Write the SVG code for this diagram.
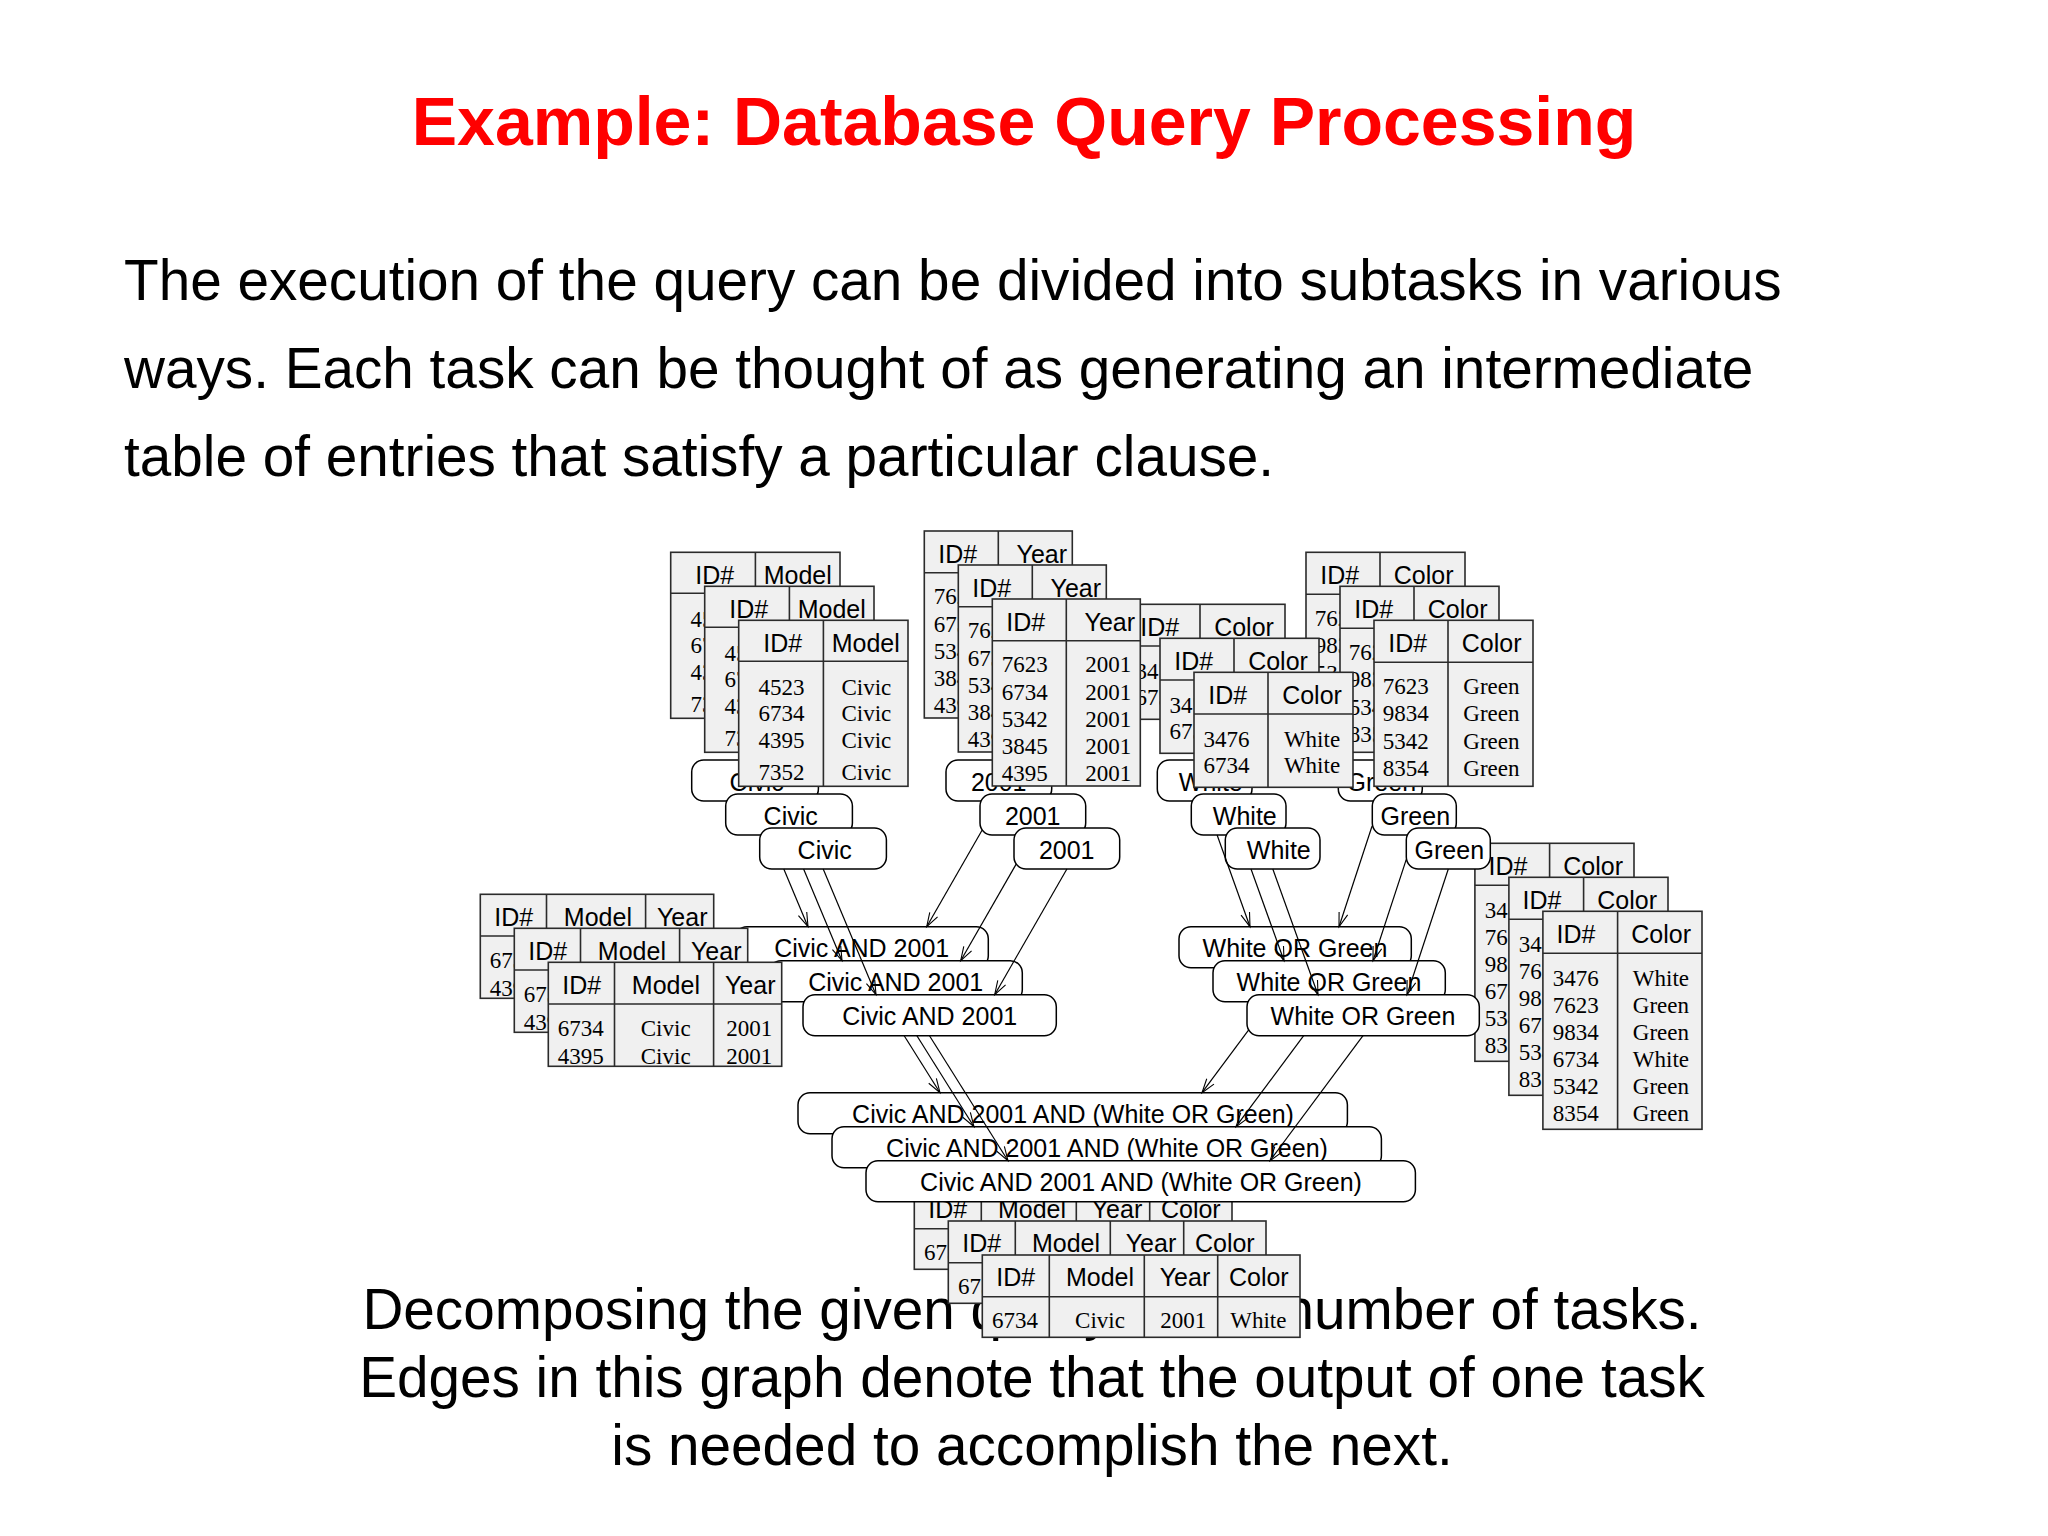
<svg xmlns="http://www.w3.org/2000/svg" width="2048" height="1536" viewBox="0 0 2048 1536">
<style>
.title{font-family:"Liberation Sans",Arial,sans-serif;font-weight:bold;font-size:68px;fill:#ff0000}
.body{font-family:"Liberation Sans",Arial,sans-serif;font-size:56.7px;fill:#000}
.tb{fill:#f0f0f0;stroke:#2b2b2b;stroke-width:1.6}
.tl{fill:none;stroke:#2b2b2b;stroke-width:1.6}
.th{font-family:"Liberation Sans",Arial,sans-serif;font-size:25px;text-anchor:middle;fill:#000}
.td{font-family:"Liberation Serif","Times New Roman",serif;font-size:23px;text-anchor:middle;fill:#000}
.lb{fill:#fff;stroke:#000;stroke-width:1.5}
.lt{font-family:"Liberation Sans",Arial,sans-serif;font-size:25px;text-anchor:middle;fill:#000}
.cn{fill:none;stroke:#000;stroke-width:1.2;marker-end:url(#arr)}
</style>
<defs>
<marker id="arr" markerUnits="userSpaceOnUse" markerWidth="16" markerHeight="12" refX="14" refY="5" orient="auto" overflow="visible">
<path d="M0,0.5 L14,5 L0,9.5" fill="none" stroke="#000" stroke-width="1.1"/>
</marker>
</defs>
<rect width="2048" height="1536" fill="#fff"/>
<text class="title" x="1024" y="145" text-anchor="middle">Example: Database Query Processing</text>
<g id="paragraph">
<text class="body" x="124" y="300">The execution of the query can be divided into subtasks in various</text>
<text class="body" x="124" y="388">ways. Each task can be thought of as generating an intermediate</text>
<text class="body" x="124" y="476">table of entries that satisfy a particular clause.</text>
</g>
<g id="caption">
<text class="body" x="1032" y="1329" text-anchor="middle">Decomposing the given query into a number of tasks.</text>
<text class="body" x="1032" y="1397" text-anchor="middle">Edges in this graph denote that the output of one task</text>
<text class="body" x="1032" y="1465" text-anchor="middle">is needed to accomplish the next.</text>
</g>

<!-- LAYER 1 -->
<g id="layer1">
<g id="model-table-1" transform="translate(670.7,552.3)">
<rect class="tb" width="169.3" height="166"/><path class="tl" d="M0 41H169.3M84.7 0V166"/>
<text class="th" x="44" y="31.5">ID#</text><text class="th" x="127" y="31.5">Model</text>
<text class="td" x="42.7" y="74.3">4523</text><text class="td" x="127.7" y="74.3">Civic</text>
<text class="td" x="42.7" y="101">6734</text><text class="td" x="127.7" y="101">Civic</text>
<text class="td" x="42.7" y="127.6">4395</text><text class="td" x="127.7" y="127.6">Civic</text>
<text class="td" x="42.7" y="159.3">7352</text><text class="td" x="127.7" y="159.3">Civic</text>
</g>
<g id="year-table-1" transform="translate(924.3,531)">
<rect class="tb" width="148" height="187"/><path class="tl" d="M0 41.7H148M74 0V187"/>
<text class="th" x="33.4" y="31.5">ID#</text><text class="th" x="117.5" y="31.5">Year</text>
<text class="td" x="32.4" y="73.3">7623</text><text class="td" x="116" y="73.3">2001</text>
<text class="td" x="32.4" y="100.7">6734</text><text class="td" x="116" y="100.7">2001</text>
<text class="td" x="32.4" y="127.7">5342</text><text class="td" x="116" y="127.7">2001</text>
<text class="td" x="32.4" y="155">3845</text><text class="td" x="116" y="155">2001</text>
<text class="td" x="32.4" y="181.7">4395</text><text class="td" x="116" y="181.7">2001</text>
</g>
<g id="white-table-1" transform="translate(1126,604.3)">
<rect class="tb" width="159" height="115"/><path class="tl" d="M0 41.7H159M74 0V115"/>
<text class="th" x="33.7" y="31.5">ID#</text><text class="th" x="118" y="31.5">Color</text>
<text class="td" x="32.4" y="74.4">3476</text><text class="td" x="118" y="74.4">White</text>
<text class="td" x="32.4" y="101">6734</text><text class="td" x="118" y="101">White</text>
</g>
<g id="green-table-1" transform="translate(1306,552.3)">
<rect class="tb" width="159" height="166"/><path class="tl" d="M0 42H159M74 0V166"/>
<text class="th" x="33.7" y="31.5">ID#</text><text class="th" x="117.7" y="31.5">Color</text>
<text class="td" x="31.7" y="73.6">7623</text><text class="td" x="117.4" y="73.6">Green</text>
<text class="td" x="31.7" y="101">9834</text><text class="td" x="117.4" y="101">Green</text>
<text class="td" x="31.7" y="128.6">5342</text><text class="td" x="117.4" y="128.6">Green</text>
<text class="td" x="31.7" y="155.3">8354</text><text class="td" x="117.4" y="155.3">Green</text>
</g>
<g id="civic-1" transform="translate(691.7,760)"><rect class="lb" width="126.7" height="41" rx="12"/><text class="lt" x="65" y="30.5">Civic</text></g>
<g id="y2001-1" transform="translate(946,760)"><rect class="lb" width="105.7" height="41" rx="12"/><text class="lt" x="52.7" y="30.5">2001</text></g>
<g id="white-1" transform="translate(1157.3,760)"><rect class="lb" width="94.7" height="41" rx="12"/><text class="lt" x="53.5" y="30.5">White</text></g>
<g id="green-1" transform="translate(1338.3,760)"><rect class="lb" width="84" height="41" rx="12"/><text class="lt" x="43" y="30.5">Green</text></g>
<g id="ca-table-1" transform="translate(480.3,894.3)">
<rect class="tb" width="233.4" height="104"/><path class="tl" d="M0 41.7H233.4M66.2 0V104M165.3 0V104"/>
<text class="th" x="33.4" y="31.5">ID#</text><text class="th" x="117.6" y="31.5">Model</text><text class="th" x="201.9" y="31.5">Year</text>
<text class="td" x="32.5" y="73.3">6734</text><text class="td" x="117.4" y="73.3">Civic</text><text class="td" x="200.9" y="73.3">2001</text>
<text class="td" x="32.5" y="101.7">4395</text><text class="td" x="117.4" y="101.7">Civic</text><text class="td" x="200.9" y="101.7">2001</text>
</g>
<g id="ca-1" transform="translate(735,926.7)"><rect class="lb" width="253.3" height="41" rx="12"/><text class="lt" x="126.7" y="30.5">Civic AND 2001</text></g>
<g id="wog-table-1" transform="translate(1474.9,843.3)">
<rect class="tb" width="159.1" height="218"/><path class="tl" d="M0 42H159.1M74.7 0V218"/>
<text class="th" x="33.1" y="31.5">ID#</text><text class="th" x="118.2" y="31.5">Color</text>
<text class="td" x="32.9" y="75">3476</text><text class="td" x="118" y="75">White</text>
<text class="td" x="32.9" y="102">7623</text><text class="td" x="118" y="102">Green</text>
<text class="td" x="32.9" y="129">9834</text><text class="td" x="118" y="129">Green</text>
<text class="td" x="32.9" y="156">6734</text><text class="td" x="118" y="156">White</text>
<text class="td" x="32.9" y="183">5342</text><text class="td" x="118" y="183">Green</text>
<text class="td" x="32.9" y="210">8354</text><text class="td" x="118" y="210">Green</text>
</g>
<g id="wog-1" transform="translate(1179,926.7)"><rect class="lb" width="232.3" height="41" rx="12"/><text class="lt" x="116" y="30.5">White OR Green</text></g>
<g id="final-table-1" transform="translate(914.3,1187)">
<rect class="tb" width="317.7" height="82.3"/><path class="tl" d="M0 41.7H317.7M67 0V82.3M162 0V82.3M235.4 0V82.3"/>
<text class="th" x="33.5" y="31">ID#</text><text class="th" x="117.7" y="31">Model</text><text class="th" x="202.7" y="31">Year</text><text class="th" x="276.5" y="31">Color</text>
<text class="td" x="32.7" y="73.3">6734</text><text class="td" x="117.7" y="73.3">Civic</text><text class="td" x="201" y="73.3">2001</text><text class="td" x="276" y="73.3">White</text>
</g>
<g id="final-1" transform="translate(798,1092.7)"><rect class="lb" width="549.4" height="41" rx="12"/><text class="lt" x="275" y="30.5">Civic AND 2001 AND (White OR Green)</text></g>
</g>

<!-- LAYER 2 -->
<g id="layer2">
<g id="model-table-2" transform="translate(704.7,586.3)">
<rect class="tb" width="169.3" height="166"/><path class="tl" d="M0 41H169.3M84.7 0V166"/>
<text class="th" x="44" y="31.5">ID#</text><text class="th" x="127" y="31.5">Model</text>
<text class="td" x="42.7" y="74.3">4523</text><text class="td" x="127.7" y="74.3">Civic</text>
<text class="td" x="42.7" y="101">6734</text><text class="td" x="127.7" y="101">Civic</text>
<text class="td" x="42.7" y="127.6">4395</text><text class="td" x="127.7" y="127.6">Civic</text>
<text class="td" x="42.7" y="159.3">7352</text><text class="td" x="127.7" y="159.3">Civic</text>
</g>
<g id="year-table-2" transform="translate(958.3,565)">
<rect class="tb" width="148" height="187"/><path class="tl" d="M0 41.7H148M74 0V187"/>
<text class="th" x="33.4" y="31.5">ID#</text><text class="th" x="117.5" y="31.5">Year</text>
<text class="td" x="32.4" y="73.3">7623</text><text class="td" x="116" y="73.3">2001</text>
<text class="td" x="32.4" y="100.7">6734</text><text class="td" x="116" y="100.7">2001</text>
<text class="td" x="32.4" y="127.7">5342</text><text class="td" x="116" y="127.7">2001</text>
<text class="td" x="32.4" y="155">3845</text><text class="td" x="116" y="155">2001</text>
<text class="td" x="32.4" y="181.7">4395</text><text class="td" x="116" y="181.7">2001</text>
</g>
<g id="white-table-2" transform="translate(1160,638.3)">
<rect class="tb" width="159" height="115"/><path class="tl" d="M0 41.7H159M74 0V115"/>
<text class="th" x="33.7" y="31.5">ID#</text><text class="th" x="118" y="31.5">Color</text>
<text class="td" x="32.4" y="74.4">3476</text><text class="td" x="118" y="74.4">White</text>
<text class="td" x="32.4" y="101">6734</text><text class="td" x="118" y="101">White</text>
</g>
<g id="green-table-2" transform="translate(1340,586.3)">
<rect class="tb" width="159" height="166"/><path class="tl" d="M0 42H159M74 0V166"/>
<text class="th" x="33.7" y="31.5">ID#</text><text class="th" x="117.7" y="31.5">Color</text>
<text class="td" x="31.7" y="73.6">7623</text><text class="td" x="117.4" y="73.6">Green</text>
<text class="td" x="31.7" y="101">9834</text><text class="td" x="117.4" y="101">Green</text>
<text class="td" x="31.7" y="128.6">5342</text><text class="td" x="117.4" y="128.6">Green</text>
<text class="td" x="31.7" y="155.3">8354</text><text class="td" x="117.4" y="155.3">Green</text>
</g>
<g id="civic-2" transform="translate(725.7,794)"><rect class="lb" width="126.7" height="41" rx="12"/><text class="lt" x="65" y="30.5">Civic</text></g>
<g id="y2001-2" transform="translate(980,794)"><rect class="lb" width="105.7" height="41" rx="12"/><text class="lt" x="52.7" y="30.5">2001</text></g>
<g id="white-2" transform="translate(1191.3,794)"><rect class="lb" width="94.7" height="41" rx="12"/><text class="lt" x="53.5" y="30.5">White</text></g>
<g id="green-2" transform="translate(1372.3,794)"><rect class="lb" width="84" height="41" rx="12"/><text class="lt" x="43" y="30.5">Green</text></g>
<g id="ca-table-2" transform="translate(514.3,928.3)">
<rect class="tb" width="233.4" height="104"/><path class="tl" d="M0 41.7H233.4M66.2 0V104M165.3 0V104"/>
<text class="th" x="33.4" y="31.5">ID#</text><text class="th" x="117.6" y="31.5">Model</text><text class="th" x="201.9" y="31.5">Year</text>
<text class="td" x="32.5" y="73.3">6734</text><text class="td" x="117.4" y="73.3">Civic</text><text class="td" x="200.9" y="73.3">2001</text>
<text class="td" x="32.5" y="101.7">4395</text><text class="td" x="117.4" y="101.7">Civic</text><text class="td" x="200.9" y="101.7">2001</text>
</g>
<g id="ca-2" transform="translate(769,960.7)"><rect class="lb" width="253.3" height="41" rx="12"/><text class="lt" x="126.7" y="30.5">Civic AND 2001</text></g>
<g id="wog-table-2" transform="translate(1508.9,877.3)">
<rect class="tb" width="159.1" height="218"/><path class="tl" d="M0 42H159.1M74.7 0V218"/>
<text class="th" x="33.1" y="31.5">ID#</text><text class="th" x="118.2" y="31.5">Color</text>
<text class="td" x="32.9" y="75">3476</text><text class="td" x="118" y="75">White</text>
<text class="td" x="32.9" y="102">7623</text><text class="td" x="118" y="102">Green</text>
<text class="td" x="32.9" y="129">9834</text><text class="td" x="118" y="129">Green</text>
<text class="td" x="32.9" y="156">6734</text><text class="td" x="118" y="156">White</text>
<text class="td" x="32.9" y="183">5342</text><text class="td" x="118" y="183">Green</text>
<text class="td" x="32.9" y="210">8354</text><text class="td" x="118" y="210">Green</text>
</g>
<g id="wog-2" transform="translate(1213,960.7)"><rect class="lb" width="232.3" height="41" rx="12"/><text class="lt" x="116" y="30.5">White OR Green</text></g>
<g id="final-table-2" transform="translate(948.3,1221)">
<rect class="tb" width="317.7" height="82.3"/><path class="tl" d="M0 41.7H317.7M67 0V82.3M162 0V82.3M235.4 0V82.3"/>
<text class="th" x="33.5" y="31">ID#</text><text class="th" x="117.7" y="31">Model</text><text class="th" x="202.7" y="31">Year</text><text class="th" x="276.5" y="31">Color</text>
<text class="td" x="32.7" y="73.3">6734</text><text class="td" x="117.7" y="73.3">Civic</text><text class="td" x="201" y="73.3">2001</text><text class="td" x="276" y="73.3">White</text>
</g>
<g id="final-2" transform="translate(832,1126.7)"><rect class="lb" width="549.4" height="41" rx="12"/><text class="lt" x="275" y="30.5">Civic AND 2001 AND (White OR Green)</text></g>
</g>

<!-- LAYER 3 -->
<g id="layer3">
<g id="model-table-3" transform="translate(738.7,620.3)">
<rect class="tb" width="169.3" height="166"/><path class="tl" d="M0 41H169.3M84.7 0V166"/>
<text class="th" x="44" y="31.5">ID#</text><text class="th" x="127" y="31.5">Model</text>
<text class="td" x="42.7" y="74.3">4523</text><text class="td" x="127.7" y="74.3">Civic</text>
<text class="td" x="42.7" y="101">6734</text><text class="td" x="127.7" y="101">Civic</text>
<text class="td" x="42.7" y="127.6">4395</text><text class="td" x="127.7" y="127.6">Civic</text>
<text class="td" x="42.7" y="159.3">7352</text><text class="td" x="127.7" y="159.3">Civic</text>
</g>
<g id="year-table-3" transform="translate(992.3,599)">
<rect class="tb" width="148" height="187"/><path class="tl" d="M0 41.7H148M74 0V187"/>
<text class="th" x="33.4" y="31.5">ID#</text><text class="th" x="117.5" y="31.5">Year</text>
<text class="td" x="32.4" y="73.3">7623</text><text class="td" x="116" y="73.3">2001</text>
<text class="td" x="32.4" y="100.7">6734</text><text class="td" x="116" y="100.7">2001</text>
<text class="td" x="32.4" y="127.7">5342</text><text class="td" x="116" y="127.7">2001</text>
<text class="td" x="32.4" y="155">3845</text><text class="td" x="116" y="155">2001</text>
<text class="td" x="32.4" y="181.7">4395</text><text class="td" x="116" y="181.7">2001</text>
</g>
<g id="white-table-3" transform="translate(1194,672.3)">
<rect class="tb" width="159" height="115"/><path class="tl" d="M0 41.7H159M74 0V115"/>
<text class="th" x="33.7" y="31.5">ID#</text><text class="th" x="118" y="31.5">Color</text>
<text class="td" x="32.4" y="74.4">3476</text><text class="td" x="118" y="74.4">White</text>
<text class="td" x="32.4" y="101">6734</text><text class="td" x="118" y="101">White</text>
</g>
<g id="green-table-3" transform="translate(1374,620.3)">
<rect class="tb" width="159" height="166"/><path class="tl" d="M0 42H159M74 0V166"/>
<text class="th" x="33.7" y="31.5">ID#</text><text class="th" x="117.7" y="31.5">Color</text>
<text class="td" x="31.7" y="73.6">7623</text><text class="td" x="117.4" y="73.6">Green</text>
<text class="td" x="31.7" y="101">9834</text><text class="td" x="117.4" y="101">Green</text>
<text class="td" x="31.7" y="128.6">5342</text><text class="td" x="117.4" y="128.6">Green</text>
<text class="td" x="31.7" y="155.3">8354</text><text class="td" x="117.4" y="155.3">Green</text>
</g>
<g id="civic-3" transform="translate(759.7,828)"><rect class="lb" width="126.7" height="41" rx="12"/><text class="lt" x="65" y="30.5">Civic</text></g>
<g id="y2001-3" transform="translate(1014,828)"><rect class="lb" width="105.7" height="41" rx="12"/><text class="lt" x="52.7" y="30.5">2001</text></g>
<g id="white-3" transform="translate(1225.3,828)"><rect class="lb" width="94.7" height="41" rx="12"/><text class="lt" x="53.5" y="30.5">White</text></g>
<g id="green-3" transform="translate(1406.3,828)"><rect class="lb" width="84" height="41" rx="12"/><text class="lt" x="43" y="30.5">Green</text></g>
<g id="ca-table-3" transform="translate(548.3,962.3)">
<rect class="tb" width="233.4" height="104"/><path class="tl" d="M0 41.7H233.4M66.2 0V104M165.3 0V104"/>
<text class="th" x="33.4" y="31.5">ID#</text><text class="th" x="117.6" y="31.5">Model</text><text class="th" x="201.9" y="31.5">Year</text>
<text class="td" x="32.5" y="73.3">6734</text><text class="td" x="117.4" y="73.3">Civic</text><text class="td" x="200.9" y="73.3">2001</text>
<text class="td" x="32.5" y="101.7">4395</text><text class="td" x="117.4" y="101.7">Civic</text><text class="td" x="200.9" y="101.7">2001</text>
</g>
<g id="ca-3" transform="translate(803,994.7)"><rect class="lb" width="253.3" height="41" rx="12"/><text class="lt" x="126.7" y="30.5">Civic AND 2001</text></g>
<g id="wog-table-3" transform="translate(1542.9,911.3)">
<rect class="tb" width="159.1" height="218"/><path class="tl" d="M0 42H159.1M74.7 0V218"/>
<text class="th" x="33.1" y="31.5">ID#</text><text class="th" x="118.2" y="31.5">Color</text>
<text class="td" x="32.9" y="75">3476</text><text class="td" x="118" y="75">White</text>
<text class="td" x="32.9" y="102">7623</text><text class="td" x="118" y="102">Green</text>
<text class="td" x="32.9" y="129">9834</text><text class="td" x="118" y="129">Green</text>
<text class="td" x="32.9" y="156">6734</text><text class="td" x="118" y="156">White</text>
<text class="td" x="32.9" y="183">5342</text><text class="td" x="118" y="183">Green</text>
<text class="td" x="32.9" y="210">8354</text><text class="td" x="118" y="210">Green</text>
</g>
<g id="wog-3" transform="translate(1247,994.7)"><rect class="lb" width="232.3" height="41" rx="12"/><text class="lt" x="116" y="30.5">White OR Green</text></g>
<g id="final-table-3" transform="translate(982.3,1255)">
<rect class="tb" width="317.7" height="82.3"/><path class="tl" d="M0 41.7H317.7M67 0V82.3M162 0V82.3M235.4 0V82.3"/>
<text class="th" x="33.5" y="31">ID#</text><text class="th" x="117.7" y="31">Model</text><text class="th" x="202.7" y="31">Year</text><text class="th" x="276.5" y="31">Color</text>
<text class="td" x="32.7" y="73.3">6734</text><text class="td" x="117.7" y="73.3">Civic</text><text class="td" x="201" y="73.3">2001</text><text class="td" x="276" y="73.3">White</text>
</g>
<g id="final-3" transform="translate(866,1160.7)"><rect class="lb" width="549.4" height="41" rx="12"/><text class="lt" x="275" y="30.5">Civic AND 2001 AND (White OR Green)</text></g>
</g>

<g id="connectors">
<line class="cn" x1="783.8" y1="869" x2="808" y2="926.7"/>
<line class="cn" x1="803.6" y1="869" x2="842" y2="960.7"/>
<line class="cn" x1="823.2" y1="869" x2="876" y2="994.7"/>
<line class="cn" x1="982.2" y1="830" x2="926.7" y2="926.7"/>
<line class="cn" x1="1016.3" y1="863.9" x2="960.7" y2="960.7"/>
<line class="cn" x1="1066.9" y1="869" x2="994.7" y2="994.7"/>
<line class="cn" x1="1217.1" y1="835" x2="1250" y2="926.7"/>
<line class="cn" x1="1251" y1="869" x2="1284" y2="960.7"/>
<line class="cn" x1="1272.8" y1="869" x2="1318" y2="994.7"/>
<line class="cn" x1="1372" y1="826.3" x2="1339" y2="926.7"/>
<line class="cn" x1="1406.2" y1="859.6" x2="1373" y2="960.7"/>
<line class="cn" x1="1448.3" y1="869" x2="1407" y2="994.7"/>
<line class="cn" x1="904.2" y1="1035.7" x2="940" y2="1092.7"/>
<line class="cn" x1="916.9" y1="1035.7" x2="974" y2="1126.7"/>
<line class="cn" x1="929.5" y1="1035.7" x2="1008" y2="1160.7"/>
<line class="cn" x1="1248.9" y1="1029.7" x2="1202" y2="1092.7"/>
<line class="cn" x1="1303.7" y1="1035.7" x2="1236" y2="1126.7"/>
<line class="cn" x1="1363" y1="1035.7" x2="1270" y2="1160.7"/>
</g>
</svg>
